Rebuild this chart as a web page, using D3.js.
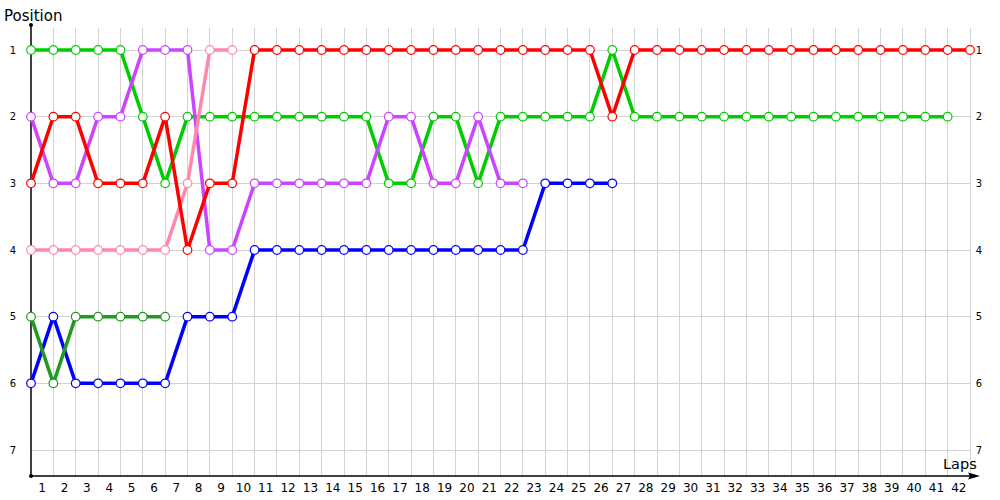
<!DOCTYPE html>
<html><head><meta charset="utf-8">
<script src="https://cdn.jsdelivr.net/npm/d3@7"></script>
<style>body{margin:0;background:#fff}svg{display:block}</style>
</head><body>
<svg id="c" width="1000" height="500"></svg>
<script>
const laps = d3.range(0, 43);
const lapLabels = d3.range(1, 43).map(String);
const positions = [1, 2, 3, 4, 5, 6, 7];

const redPos    = [3,2,2,3,3,3,2,4,3,3,1,1,1,1,1,1,1,1,1,1,1,1,1,1,1,1,2,1,1,1,1,1,1,1,1,1,1,1,1,1,1,1,1];
const greenPos  = [1,1,1,1,1,2,3,2,2,2,2,2,2,2,2,2,3,3,2,2,3,2,2,2,2,2,1,2,2,2,2,2,2,2,2,2,2,2,2,2,2,2];
const purplePos = [2,3,3,2,2,1,1,1,4,4,3,3,3,3,3,3,2,2,3,3,2,3,3];
const pinkPos   = [4,4,4,4,4,4,4,3,1,1];
const dkGreenPos= [5,6,5,5,5,5,5];
const bluePos   = [6,5,6,6,6,6,6,5,5,5,4,4,4,4,4,4,4,4,4,4,4,4,4,3,3,3,3];

const series = [
  {name:"blue", color:"#0000ff", data:bluePos},
  {name:"dkgreen", color:"#229922", data:dkGreenPos},
  {name:"green", color:"#00cc00", data:greenPos},
  {name:"purple", color:"#cc44ff", data:purplePos},
  {name:"pink", color:"#ff88aa", data:pinkPos},
  {name:"red", color:"#ff0000", data:redPos}
];

const svg = d3.select("#c");
const x = d3.scaleLinear().domain([0, 42]).range([31, 970]);
const y = d3.scaleLinear().domain([1, 7]).range([50, 450]);
const yTop = 28, yBot = 476;
const font = "'DejaVu Sans', Verdana, sans-serif";

// grid
svg.append("g").selectAll("line").data(laps.slice(1)).join("line")
  .attr("x1", d => x(d)).attr("x2", d => x(d))
  .attr("y1", yTop).attr("y2", yBot)
  .attr("stroke", "#d3d3d3").attr("stroke-width", 1).attr("shape-rendering","crispEdges");
svg.append("g").selectAll("line").data(positions).join("line")
  .attr("x1", x(0)).attr("x2", x(42))
  .attr("y1", d => y(d)).attr("y2", d => y(d))
  .attr("stroke", "#d3d3d3").attr("stroke-width", 1).attr("shape-rendering","crispEdges");

// axes
svg.append("line").attr("x1", x(0)).attr("x2", x(0)).attr("y1", 25).attr("y2", yBot)
  .attr("stroke", "#000").attr("stroke-width", 1.5);
svg.append("line").attr("x1", x(0)).attr("x2", 975).attr("y1", yBot).attr("y2", yBot)
  .attr("stroke", "#000").attr("stroke-width", 1.5);
svg.append("path").attr("d", `M980,${yBot} L968,${yBot-3.5} L970,${yBot} L968,${yBot+3.5} Z`).attr("fill", "#000");
svg.append("circle").attr("cx", x(0)).attr("cy", 25).attr("r", 2).attr("fill", "#000");
svg.append("circle").attr("cx", x(0)).attr("cy", yBot).attr("r", 2).attr("fill", "#000");

// y labels
svg.append("g").selectAll("text").data(positions).join("text")
  .attr("x", 13).attr("y", d => y(d) + 3.5).attr("text-anchor", "middle")
  .attr("font-family", font).attr("font-size", 10).attr("fill", "#000").text(d => d);
svg.append("g").selectAll("text").data(positions).join("text")
  .attr("x", 979).attr("y", d => y(d) + 3.5).attr("text-anchor", "middle")
  .attr("font-family", font).attr("font-size", 10).attr("fill", "#000").text(d => d);

// x labels
svg.append("g").selectAll("text").data(lapLabels).join("text")
  .attr("x", (d, i) => x(i + 0.5)).attr("y", 492).attr("text-anchor", "middle")
  .attr("font-family", font).attr("font-size", 12).attr("fill", "#000").text(d => d);

// titles
svg.append("text").attr("x", 4).attr("y", 21).attr("font-family", font).attr("font-size", 15)
  .attr("fill", "#000").text("Position");
svg.append("text").attr("x", 943).attr("y", 469).attr("font-family", font).attr("font-size", 14.5)
  .attr("fill", "#000").text("Laps");

// lines
const line = d3.line().x((d, i) => x(i)).y(d => y(d));
series.forEach(s => {
  svg.append("path").datum(s.data).attr("d", line).attr("fill", "none")
    .attr("stroke", s.color).attr("stroke-width", 3.5).attr("stroke-linejoin", "round");
});
series.forEach(s => {
  svg.append("g").selectAll("circle").data(s.data).join("circle")
    .attr("cx", (d, i) => x(i)).attr("cy", d => y(d)).attr("r", 4.3)
    .attr("fill", "#fff").attr("stroke", s.color).attr("stroke-width", 1.2);
});
</script>
</body></html>
